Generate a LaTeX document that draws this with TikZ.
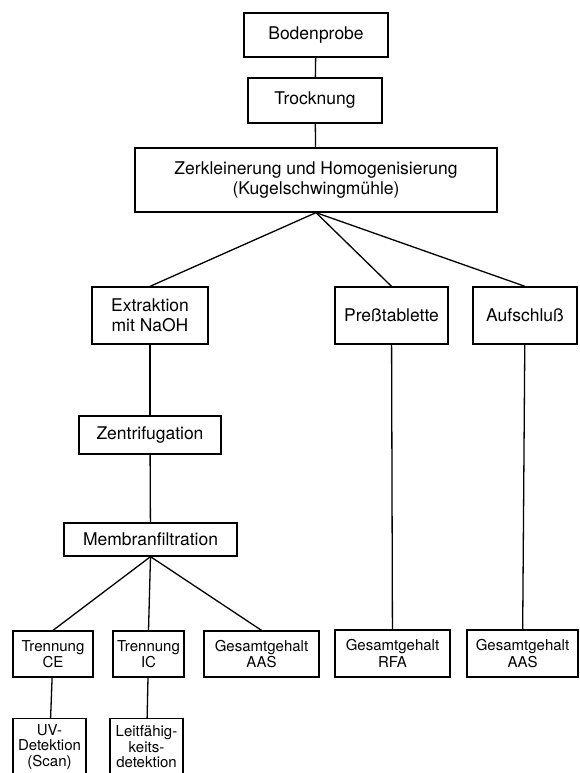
\documentclass[tikz,border=0pt]{standalone}
\usepackage{fontspec}
\setmainfont{TeX Gyre Heros}
\newcommand\bigtxt{\fontsize{17.5}{20}\selectfont}
\newcommand\smalltxt{\fontsize{15}{16.5}\selectfont}
\newcommand\tinytxt{\fontsize{15}{15.5}\selectfont}
\begin{document}
\begin{tikzpicture}[x=1pt,y=-1pt,
  box/.style={draw, line width=1.3pt, align=center, inner sep=0pt, font=\bigtxt},
  sbox/.style={box, font=\smalltxt},
  cutbox/.style={box, font=\tinytxt, anchor=north, minimum width=73pt, minimum height=56pt},
  link/.style={line width=1.3pt}]
\useasboundingbox (0,0) rectangle (580,773);
\clip (0,0) rectangle (580,773);
\fill[white] (0,0) rectangle (580,773);
\node[box, minimum width=144pt, minimum height=44pt] (bod) at (316,35) {Bodenprobe};
\node[box, minimum width=134pt, minimum height=45pt] (troc) at (315,100.5) {Trocknung};
\node[box, minimum width=362pt, minimum height=64pt] (zerk) at (316,180) {Zerkleinerung und Homogenisierung\\(Kugelschwingmühle)};
\node[box, minimum width=116pt, minimum height=57pt] (extr) at (150,315.5) {Extraktion\\mit NaOH};
\node[box, minimum width=113pt, minimum height=57pt] (press) at (391.5,315.5) {Preßtablette};
\node[box, minimum width=104pt, minimum height=57pt] (aufs) at (525,315.5) {Aufschluß};
\node[box, minimum width=142pt, minimum height=38pt] (zent) at (150,435) {Zentrifugation};
\node[box, minimum width=173pt, minimum height=33pt] (memb) at (150.5,539.5) {Membranfiltration};
\node[sbox, minimum width=80pt, minimum height=46pt] (tce) at (53,654) {Trennung\\CE};
\node[sbox, minimum width=71pt, minimum height=46pt] (tic) at (148.5,654) {Trennung\\IC};
\node[sbox, minimum width=115pt, minimum height=46pt] (gaasa) at (261.5,654) {Gesamtgehalt\\AAS};
\node[sbox, minimum width=115pt, minimum height=47pt] (grfa) at (392.5,653.5) {Gesamtgehalt\\RFA};
\node[sbox, minimum width=111pt, minimum height=47pt] (gaasb) at (522.5,653.5) {Gesamtgehalt\\AAS};
\node[cutbox] (uv) at (49.5,718) {UV-\\Detektion\\(Scan)};
\node[cutbox] (leit) at (146.5,718) {Leitfähig-\\keits-\\detektion};
\draw[link] (bod) -- (troc);
\draw[link] (troc) -- (zerk);
\draw[link] (zerk.south) -- (extr.north);
\draw[link] (zerk.south) -- (press.north);
\draw[link] (zerk.south) -- (aufs.north);
\draw[link] (extr) -- (zent);
\draw[link] (zent) -- (memb);
\draw[link] (memb.south) -- (tce.north);
\draw[link] (memb.south) -- (tic.north);
\draw[link] (memb.south) -- (gaasa.north);
\draw[link] (press) -- (grfa);
\draw[link] (aufs) -- (gaasb);
\draw[link] (tce) -- (uv);
\draw[link] (tic) -- (leit);
\end{tikzpicture}
\end{document}
